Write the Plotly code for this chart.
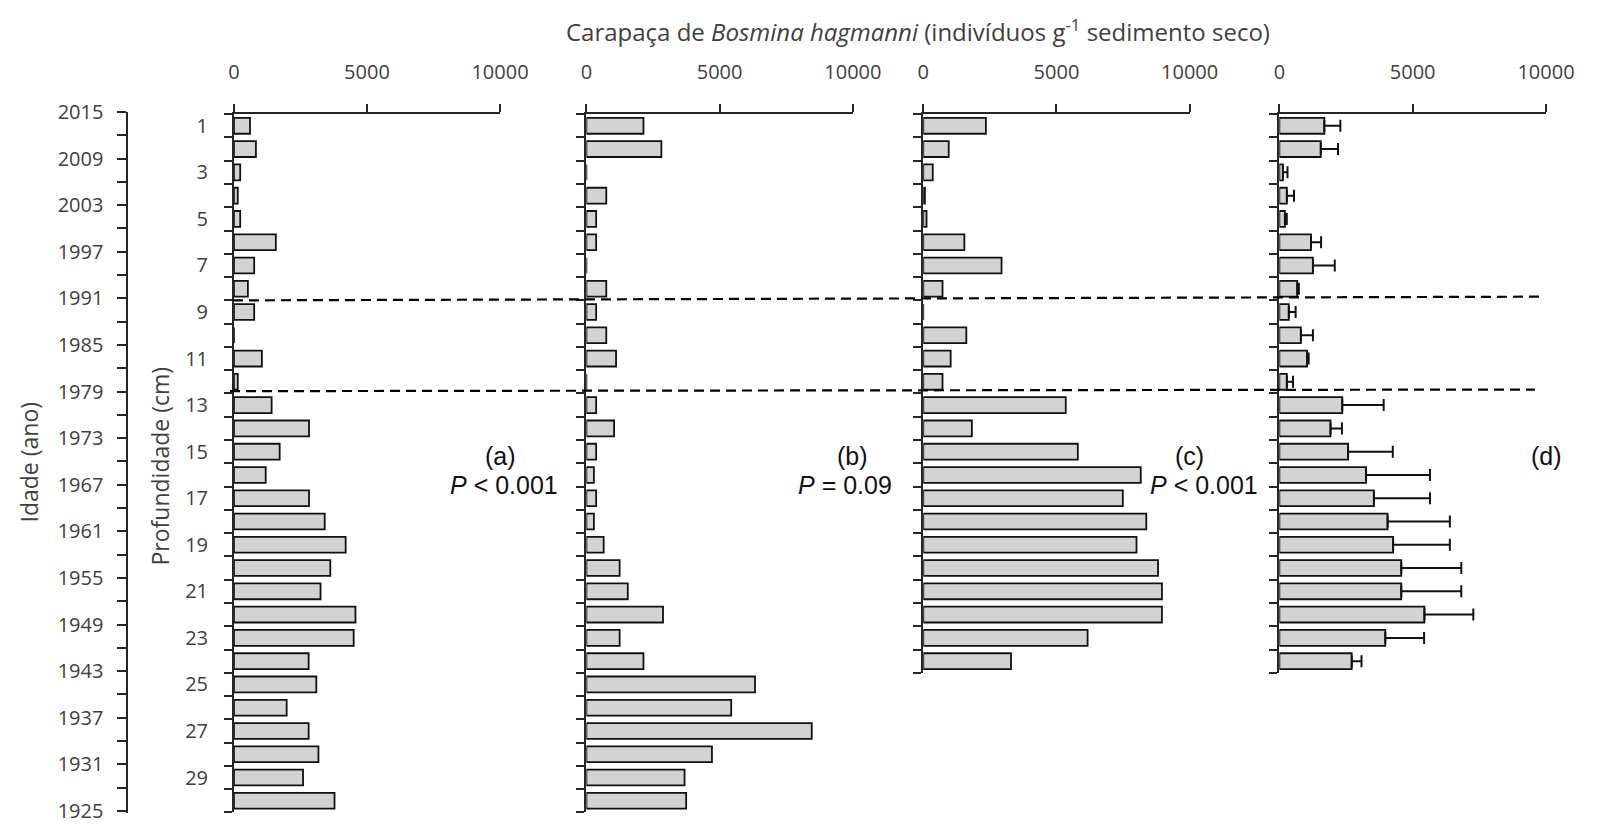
import plotly.graph_objects as go

W, H = 1607, 828

# ---------------- data ----------------
depth_a = list(range(1, 31))
vals_a = [604, 827, 236, 144, 236, 1575, 761, 525, 761, 0, 1050, 144, 1417, 2822, 1719,
          1194, 2822, 3412, 4199, 3622, 3255, 4567, 4501, 2808, 3097, 1982, 2808, 3176, 2598, 3780]

depth_b = list(range(1, 31))
vals_b = [2142, 2815, 0, 747, 367, 367, 0, 747, 367, 747, 1114, 0, 367, 1040, 367,
          282, 367, 282, 649, 1248, 1554, 2876, 1248, 2142, 6328, 5435, 8458, 4712, 3684, 3745]

depth_c = list(range(1, 25))
vals_c = [2350, 955, 355, 61, 122, 1542, 2938, 722, 0, 1616, 1028, 722, 5349, 1824, 5802,
          8164, 7491, 8372, 8005, 8813, 8960, 8960, 6169, 3293]

depth_d = list(range(1, 25))
vals_d = [1687, 1553, 134, 281, 208, 1186, 1259, 672, 355, 807, 1039, 281, 2359, 1919, 2579,
          3252, 3545, 4059, 4267, 4572, 4572, 5440, 3973, 2714]
err_d = [600, 647, 172, 269, 70, 379, 819, 60, 256, 452, 60, 232, 1553, 428, 1675,
         2396, 2103, 2335, 2127, 2250, 2250, 1834, 1455, 367]

depth_labels = [str(d) for d in range(1, 30, 2)]
years_major = list(range(1925, 2016, 6))
x_ticks = [0, 5000, 10000]
x_tick_text = ["0", "5000", "10000"]
panel_tags = ["(a)", "(b)", "(c)", "(d)"]
p_texts = ["<i>P</i> < 0.001", "<i>P</i> = 0.09", "<i>P</i> < 0.001", ""]
# zone breaks (depth units on panel a scale): (left end, right end)
zone_breaks = [(8.50, 8.34), (12.40, 12.33)]

# ---------------- style ----------------
AX_COL = "#262626"
TXT_COL = "#404040"
BAR_FILL = "#d3d3d3"
AX_FONT = dict(family="Open Sans, Calibri, sans-serif", size=20, color=TXT_COL)
TITLE_FONT = dict(family="Open Sans, Calibri, sans-serif", size=24, color=TXT_COL)
AXT_FONT = dict(family="Open Sans, Calibri, sans-serif", size=23, color=TXT_COL)
ANN_FONT = dict(family="Liberation Sans, Arial, sans-serif", size=25, color="#111111")

def px(x):
    return x / W

def py(y):
    return 1 - y / H

TOP = 103.3
ROW = 24.0
panels = [
    dict(x0=233.0, x1=505.0, n=30, depth=depth_a, vals=vals_a, err=None),
    dict(x0=593.3, x1=865.7, n=30, depth=depth_b, vals=vals_b, err=None),
    dict(x0=937.7, x1=1210.0, n=24, depth=depth_c, vals=vals_c, err=None),
    dict(x0=1301.7, x1=1574.3, n=24, depth=depth_d, vals=vals_d, err=err_d),
]

fig = go.Figure()
layout = dict(
    width=W, height=H, margin=dict(l=0, r=0, t=0, b=0),
    paper_bgcolor="white", plot_bgcolor="white", showlegend=False,
    bargap=0.3,
)

for i, p in enumerate(panels):
    k = "" if i == 0 else str(i + 1)
    xa, ya = "x" + k, "y" + k
    bar = go.Bar(
        x=p["vals"], y=p["depth"], orientation="h", xaxis=xa, yaxis=ya,
        marker=dict(color=BAR_FILL, line=dict(color="#111111", width=1.8)),
        width=0.68, hoverinfo="skip",
    )
    if p["err"] is not None:
        bar.error_x = dict(type="data", array=p["err"], arrayminus=[0] * len(p["err"]),
                           symmetric=False, color="#111111", thickness=2, width=6)
    fig.add_trace(bar)
    n = p["n"]
    bottom = TOP + n * ROW
    layout["xaxis" + k] = dict(
        domain=[px(p["x0"]), px(p["x1"])], range=[0, 10000], anchor=ya, side="top",
        tickvals=x_ticks, ticktext=x_tick_text, ticks="outside", ticklen=8, tickwidth=1.8,
        tickcolor=AX_COL, showline=True, linecolor=AX_COL, linewidth=1.8, showgrid=False,
        zeroline=False, tickfont=AX_FONT, ticklabelstandoff=17, fixedrange=True,
    )
    yax = dict(
        domain=[py(bottom), py(TOP)], range=[n + 0.5, 0.5], anchor=xa,
        showline=True, linecolor=AX_COL, linewidth=1.8, showgrid=False, zeroline=False,
        minor=dict(tickvals=[j + 0.5 for j in range(0, n + 1)], ticks="outside",
                   ticklen=8, tickwidth=1.8, tickcolor=AX_COL, showgrid=False),
        fixedrange=True,
    )
    if i == 0:
        yax.update(tickvals=list(range(1, 30, 2)), ticktext=depth_labels, ticks="",
                   tickfont=AX_FONT, ticklabelstandoff=20)
    else:
        yax.update(tickvals=[], showticklabels=False, ticks="")
    layout["yaxis" + k] = yax

# year axis (own invisible x axis)
fig.add_trace(go.Scatter(x=[0], y=[2015], xaxis="x5", yaxis="y5", mode="markers",
                         marker=dict(opacity=0), hoverinfo="skip"))
layout["xaxis5"] = dict(domain=[px(125), px(200)], range=[0, 1], visible=False,
                        anchor="y5", fixedrange=True)
yr_px = (821.7 - 101.0) / 90.0
layout["yaxis5"] = dict(
    domain=[py(821.7 + 0.3 * yr_px), py(101.0)], range=[1924.7, 2015], anchor="x5",
    side="left",
    tickvals=years_major, ticks="outside", ticklen=9, tickwidth=1.8, tickcolor=AX_COL,
    minor=dict(tickvals=list(range(1928, 2015, 6)), ticks="outside", ticklen=9,
               tickwidth=1.8, tickcolor=AX_COL, showgrid=False),
    showline=True, linecolor=AX_COL, linewidth=1.8, showgrid=False, zeroline=False,
    tickfont=AX_FONT, ticklabelstandoff=10, ticklabeloverflow="allow", fixedrange=True,
)

annotations = []
# title
annotations.append(dict(
    text="Carapaça de <i>Bosmina hagmanni</i> (indivíduos g<sup>-1</sup> sedimento seco)",
    x=px(932), y=py(17), xref="paper", yref="paper", showarrow=False,
    font=TITLE_FONT, xanchor="center", yanchor="middle"))
# axis titles
annotations.append(dict(text="Idade (ano)", x=px(24), y=py(462), xref="paper", yref="paper",
                        showarrow=False, textangle=-90, font=AXT_FONT,
                        xanchor="center", yanchor="middle"))
annotations.append(dict(text="Profundidade (cm)", x=px(157), y=py(466), xref="paper",
                        yref="paper", showarrow=False, textangle=-90, font=AXT_FONT,
                        xanchor="center", yanchor="middle"))
# panel labels
p_x_left = [452, 808, 1167, None]
for i, p in enumerate(panels):
    annotations.append(dict(text=panel_tags[i], x=px(p["x1"]), y=py(456), xref="paper",
                            yref="paper", showarrow=False, font=ANN_FONT,
                            xanchor="center", yanchor="middle"))
    if p_texts[i]:
        annotations.append(dict(text=p_texts[i], x=px(p_x_left[i]), y=py(486),
                                xref="paper", yref="paper", showarrow=False, font=ANN_FONT,
                                xanchor="left", yanchor="middle"))
layout["annotations"] = annotations

shapes = []
for (yl, yr), xl, xr in zip(zone_breaks, [232, 229], [1569, 1563]):
    shapes.append(dict(type="line", xref="paper", yref="y", x0=px(xl), x1=px(xr),
                       y0=yl, y1=yr, line=dict(color="#000000", width=2.2, dash="10px,6px")))
layout["shapes"] = shapes

fig.update_layout(**layout)
fig.write_html("out.html")
